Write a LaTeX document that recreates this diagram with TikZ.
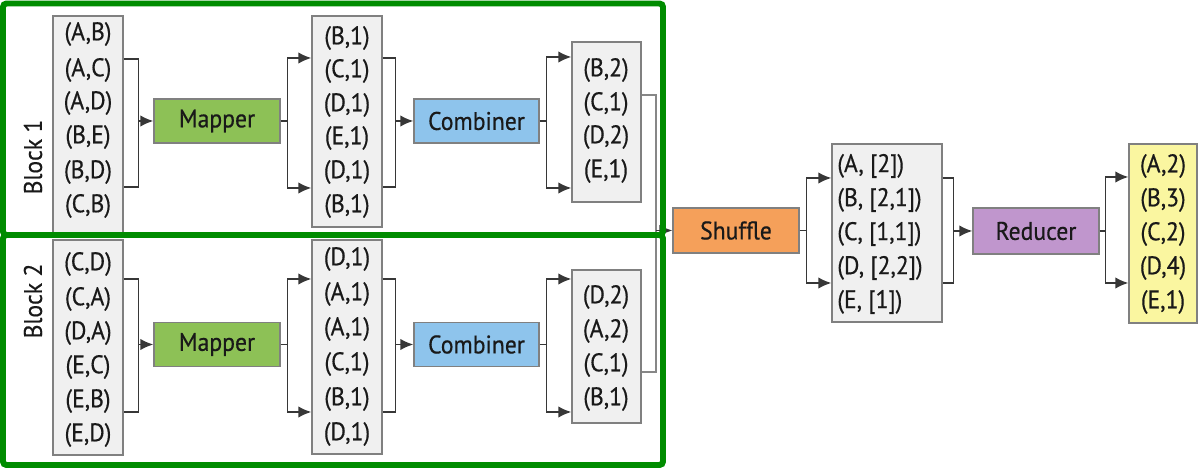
\documentclass[tikz,border=0pt]{standalone}
\usepackage{fontspec}
\setmainfont{PT Sans}[FakeBold=0.5,FakeStretch=0.93]
\usetikzlibrary{arrows.meta}
\definecolor{gframe}{RGB}{0,140,0}
\definecolor{boxgray}{RGB}{128,128,128}
\definecolor{listgray}{RGB}{240,240,240}
\definecolor{lngray}{RGB}{55,55,55}
\definecolor{lightln}{RGB}{135,135,135}
\definecolor{txt}{RGB}{25,25,25}
\definecolor{mapgreen}{RGB}{141,193,86}
\definecolor{combblue}{RGB}{142,196,236}
\definecolor{shuforange}{RGB}{245,160,90}
\definecolor{redpurple}{RGB}{192,150,205}
\definecolor{outyellow}{RGB}{250,246,160}
\newcommand\itm[4]{\node[itm] (#1) at (#2,#3) {#4};}
\begin{document}
\begin{tikzpicture}[x=0.02cm,y=-0.02cm,
  font=\fontsize{14.5}{16}\selectfont,
  lst/.style={draw=boxgray, fill=listgray, line width=0.8pt, inner sep=0pt},
  itm/.style={inner sep=0pt, text=txt, anchor=center},
  proc/.style={draw=boxgray, line width=0.8pt, minimum width=2.52cm, minimum height=0.88cm, inner sep=0pt, text=txt},
  ln/.style={draw=lngray, line width=0.9pt},
  arr/.style={ln, -{Latex[length=0.26cm,width=0.23cm]}},
  frame/.style={draw=gframe, line width=3.4pt},
]
\useasboundingbox (0,0) rectangle (1200,472);

% ---- list boxes ----
\node[lst, minimum width=1.40cm, minimum height=4.36cm] (L1) at (88,125) {};
\node[lst, minimum width=1.40cm, minimum height=4.30cm] (L2) at (88,347.5) {};
\node[lst, minimum width=1.40cm, minimum height=4.22cm] (M1) at (347,121.5) {};
\node[lst, minimum width=1.40cm, minimum height=4.28cm] (M2) at (347,347) {};
\node[lst, minimum width=1.38cm, minimum height=3.20cm] (C1) at (606.5,122) {};
\node[lst, minimum width=1.38cm, minimum height=3.06cm] (C2) at (606.5,346.5) {};
\node[lst, minimum width=2.20cm, minimum height=3.56cm] (S) at (887,233) {};
\node[lst, fill=outyellow, minimum width=1.36cm, minimum height=3.58cm] (Y) at (1163,233.5) {};

% ---- items ----
\itm{l1a}{88}{34}{(A,B)}
\itm{l1b}{88}{70}{(A,C)}
\itm{l1c}{88}{103}{(A,D)}
\itm{l1d}{88}{137}{(B,E)}
\itm{l1e}{88}{172}{(B,D)}
\itm{l1f}{88}{206}{(C,B)}
\itm{l2a}{88}{264}{(C,D)}
\itm{l2b}{88}{299}{(C,A)}
\itm{l2c}{88}{333}{(D,A)}
\itm{l2d}{88}{367}{(E,C)}
\itm{l2e}{88}{401}{(E,B)}
\itm{l2f}{88}{435}{(E,D)}
\itm{m1a}{347}{38}{(B,1)}
\itm{m1b}{347}{71}{(C,1)}
\itm{m1c}{347}{105}{(D,1)}
\itm{m1d}{347}{138}{(E,1)}
\itm{m1e}{347}{172}{(D,1)}
\itm{m1f}{347}{206}{(B,1)}
\itm{m2a}{347}{259}{(D,1)}
\itm{m2b}{347}{294}{(A,1)}
\itm{m2c}{347}{329}{(A,1)}
\itm{m2d}{347}{364}{(C,1)}
\itm{m2e}{347}{399}{(B,1)}
\itm{m2f}{347}{434}{(D,1)}
\itm{c1a}{606}{70}{(B,2)}
\itm{c1b}{606}{104}{(C,1)}
\itm{c1c}{606}{137}{(D,2)}
\itm{c1d}{606}{171}{(E,1)}
\itm{c2a}{606}{297}{(D,2)}
\itm{c2b}{606}{331}{(A,2)}
\itm{c2c}{606}{365}{(C,1)}
\itm{c2d}{606}{399}{(B,1)}
\itm{ya}{1163}{166}{(A,2)}
\itm{yb}{1163}{200}{(B,3)}
\itm{yc}{1163}{234}{(C,2)}
\itm{yd}{1163}{268}{(D,4)}
\itm{ye}{1163}{302}{(E,1)}
\node[itm, anchor=west] (sa) at (837,166) {(A, [2])};
\node[itm, anchor=west] (sb) at (837,200) {(B, [2,1])};
\node[itm, anchor=west] (sc) at (837,234) {(C, [1,1])};
\node[itm, anchor=west] (sd) at (837,268) {(D, [2,2])};
\node[itm, anchor=west] (se) at (837,302) {(E, [1])};

% ---- process boxes ----
\node[proc, fill=mapgreen] (Map1) at (217,121) {Mapper};
\node[proc, fill=mapgreen] (Map2) at (217,344.5) {Mapper};
\node[proc, fill=combblue, minimum width=2.50cm] (Comb1) at (476.5,121) {Combiner};
\node[proc, fill=combblue, minimum width=2.50cm] (Comb2) at (476.5,344.5) {Combiner};
\node[proc, fill=shuforange, minimum height=0.90cm] (Shuf) at (736,230.5) {Shuffle};
\node[proc, fill=redpurple, minimum height=0.92cm] (Red) at (1036,231) {Reducer};

% ---- block labels ----
\node[itm, rotate=90] (blk1) at (33,157) {Block 1};
\node[itm, rotate=90] (blk2) at (33,301) {Block 2};

% ---- connectors, block 1 ----
\draw[ln] (L1.east |- 0,59) -- ++(15,0) coordinate (bL1) |- (L1.east |- 0,187);
\draw[arr] (bL1 |- Map1.west) -- (Map1.west);
\draw[ln] (Map1.east) -- ++(7,0) coordinate (fM1);
\draw[arr] (fM1) |- (M1.west |- 0,58);
\draw[arr] (fM1) |- (M1.west |- 0,188);
\draw[ln] (M1.east |- 0,58) -- ++(13,0) coordinate (bM1) |- (M1.east |- 0,187);
\draw[arr] (bM1 |- Comb1.west) -- (Comb1.west);
\draw[ln] (Comb1.east) -- ++(7,0) coordinate (fC1);
\draw[arr] (fC1) |- (C1.west |- 0,57);
\draw[arr] (fC1) |- (C1.west |- 0,188);

% ---- connectors, block 2 ----
\draw[ln] (L2.east |- 0,279) -- ++(15,0) coordinate (bL2) |- (L2.east |- 0,412);
\draw[arr] (bL2 |- Map2.west) -- (Map2.west);
\draw[ln] (Map2.east) -- ++(7,0) coordinate (fM2);
\draw[arr] (fM2) |- (M2.west |- 0,279);
\draw[arr] (fM2) |- (M2.west |- 0,412);
\draw[ln] (M2.east |- 0,279) -- ++(13,0) coordinate (bM2) |- (M2.east |- 0,412);
\draw[arr] (bM2 |- Comb2.west) -- (Comb2.west);
\draw[ln] (Comb2.east) -- ++(7,0) coordinate (fC2);
\draw[arr] (fC2) |- (C2.west |- 0,279);
\draw[arr] (fC2) |- (C2.west |- 0,412);

% ---- to shuffle ----
\coordinate (jS) at (656,231);
\draw[ln, draw=lightln] (C1.east |- 0,95) -| (jS);
\draw[ln, draw=lightln] (C2.east |- 0,372) -| (jS);
\draw[arr] (jS |- Shuf.west) -- (Shuf.west);

% ---- shuffle / reduce ----
\draw[ln] (Shuf.east) -- ++(7,0) coordinate (fS);
\draw[arr] (fS) |- (S.west |- 0,178);
\draw[arr] (fS) |- (S.west |- 0,283);
\draw[ln] (S.east |- 0,178) -- ++(11,0) coordinate (bS) |- (S.east |- 0,283);
\draw[arr] (bS |- Red.west) -- (Red.west);
\draw[ln] (Red.east) -- ++(6,0) coordinate (fR);
\draw[arr] (fR) |- (Y.west |- 0,177);
\draw[arr] (fR) |- (Y.west |- 0,283);

% ---- green block frames ----
\draw[frame, rounded corners=2pt] (3,3.5) rectangle (663,235);
\draw[frame, rounded corners=2pt] (3,235) rectangle (663,465);
\end{tikzpicture}
\end{document}
